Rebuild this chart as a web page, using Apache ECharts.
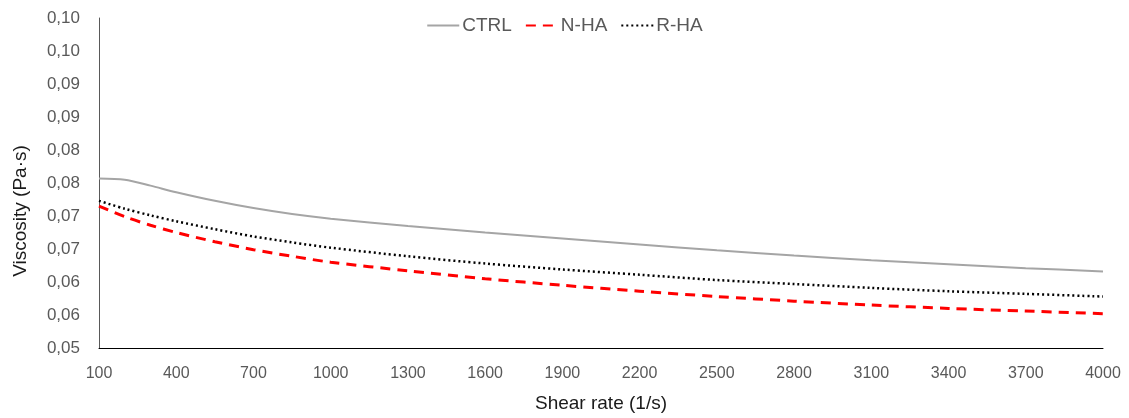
<!DOCTYPE html>
<html>
<head>
<meta charset="utf-8">
<script src="https://cdn.jsdelivr.net/npm/echarts@6/dist/echarts.min.js"></script>
<style>
html,body{margin:0;padding:0;background:#fff;}
#chart{width:1129px;height:418px;}
</style>
</head>
<body>
<div id="chart"></div>
<script>
const shearRate = [100, 200, 300, 400, 550, 700, 850, 1000, 1300, 1600, 1900, 2200, 2500, 2800, 3100, 3400, 3700, 4000];
const ctrl = [0.0757, 0.0755, 0.0746, 0.0736, 0.0723, 0.0712, 0.0703, 0.0696, 0.0685, 0.0675, 0.0666, 0.0657, 0.0648, 0.0640, 0.0633, 0.0627, 0.0621, 0.0616];
const nha  = [0.0715, 0.0699, 0.0686, 0.0675, 0.0661, 0.0649, 0.0639, 0.0630, 0.0617, 0.0605, 0.0595, 0.0586, 0.0578, 0.0571, 0.0565, 0.0560, 0.0556, 0.0552];
const rha  = [0.0723, 0.0711, 0.0701, 0.0692, 0.0680, 0.0669, 0.0660, 0.0652, 0.0639, 0.0628, 0.0619, 0.0611, 0.0603, 0.0597, 0.0591, 0.0586, 0.0582, 0.0578];
const yTickLabels = ['0,05','0,06','0,06','0,07','0,07','0,08','0,08','0,09','0,09','0,10','0,10'];
const seriesNames = ['CTRL', 'N-HA', 'R-HA'];

const pairs = arr => shearRate.map((x, i) => [x, arr[i]]);
const FONT = 'Liberation Sans, Arial, sans-serif';

const chart = echarts.init(document.getElementById('chart'), null, {renderer: 'canvas'});
chart.setOption({
  animation: false,
  backgroundColor: '#ffffff',
  legend: {
    top: 11,
    left: 'center',
    itemWidth: 32,
    itemHeight: 12,
    itemGap: 13,
    itemStyle: {opacity: 0},
    textStyle: {fontFamily: FONT, fontSize: 19, color: '#595959', padding: [0, 0, 0, -2]},
    data: seriesNames
  },
  grid: {left: 99, right: 26, top: 18, bottom: 70},
  xAxis: {
    type: 'value',
    min: 100, max: 4000, interval: 300,
    name: 'Shear rate (1/s)',
    nameLocation: 'middle',
    nameGap: 46,
    nameTextStyle: {fontFamily: FONT, fontSize: 19, color: '#1a1a1a'},
    axisLine: {show: true, lineStyle: {color: '#000000', width: 1}},
    axisTick: {show: false},
    splitLine: {show: false},
    axisLabel: {fontFamily: FONT, fontSize: 16, color: '#595959', margin: 18,
      formatter: v => String(v)}
  },
  yAxis: {
    type: 'value',
    min: 0.05, max: 0.10, interval: 0.005,
    name: 'Viscosity (Pa·s)',
    nameLocation: 'middle',
    nameGap: 69,
    nameTextStyle: {fontFamily: FONT, fontSize: 19, color: '#1a1a1a', padding: [0, 56, 0, 0]},
    axisLine: {show: true, lineStyle: {color: '#595959', width: 1}},
    axisTick: {show: false},
    splitLine: {show: false},
    axisLabel: {
      fontFamily: FONT, fontSize: 17, color: '#595959', margin: 19,
      formatter: v => yTickLabels[Math.round((v - 0.05) / 0.005)]
    }
  },
  series: [
    {name: seriesNames[0], type: 'line', smooth: 0.3, symbol: 'none', data: pairs(ctrl),
     lineStyle: {color: '#A5A5A5', width: 2, type: 'solid'}, itemStyle: {color: '#A5A5A5'}},
    {name: seriesNames[1], type: 'line', smooth: 0.3, symbol: 'none', data: pairs(nha),
     lineStyle: {color: '#FF0000', width: 3, type: [10, 7]}, itemStyle: {color: '#FF0000'}},
    {name: seriesNames[2], type: 'line', smooth: 0.3, symbol: 'none', data: pairs(rha),
     lineStyle: {color: '#000000', width: 2.5, type: [2, 3]}, itemStyle: {color: '#000000'}}
  ]
});
</script>
</body>
</html>
